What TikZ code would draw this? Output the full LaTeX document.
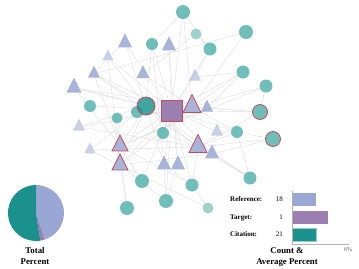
\documentclass[tikz,border=0pt]{standalone}
\usepackage{fontspec}
\setmainfont{Liberation Serif}
\usepackage{tikz}
\usetikzlibrary{positioning, shapes.geometric, backgrounds}
\definecolor{reflav}{HTML}{9AA7D4}
\definecolor{citteal}{HTML}{4FB0AA}
\definecolor{citdark}{HTML}{1A918C}
\definecolor{tgtpurple}{HTML}{9B7FB1}
\definecolor{hilite}{HTML}{C9485B}
\definecolor{edgegray}{HTML}{E0E0E0}

\begin{document}
\begin{tikzpicture}[x=1bp, y=-1bp,
  ref/.style={
    isosceles triangle, isosceles triangle apex angle=53.13,
    shape border rotate=90, fill=reflav, fill opacity=0.85,
    inner sep=0pt, minimum size=#1bp},
  ref/.default=14,
  cit/.style={circle, fill=citteal, fill opacity=0.82,
    inner sep=0pt, minimum size=#1bp},
  cit/.default=14,
  faint/.style={fill opacity=0.55},
  hot/.style={draw=hilite, line width=0.8bp},
  edge/.style={draw=edgegray, line width=0.45bp},
  bar/.style={rectangle, anchor=west, inner sep=0pt, minimum height=13bp},
  lbl/.style={font=\fontsize{7bp}{8bp}\selectfont, inner sep=0pt},
  ttl/.style={font=\fontsize{8.8bp}{10.5bp}\selectfont\bfseries, align=center},
]
  \useasboundingbox (0,0) rectangle (359,269);

  % target
  \node[rectangle, fill=tgtpurple, hot, minimum size=21bp] (tgt) at (171.5,110.5) {};

  % references
  \node[ref] (ref1)  at (125,43)  {};
  \node[ref] (ref2)  at (169,46)  {};
  \node[ref=11, faint] (ref3)  at (108,57)  {};
  \node[ref=12] (ref4)  at (94,74)  {};
  \node[ref=13] (ref5)  at (143,74)  {};
  \node[ref=15] (ref6)  at (74,88)  {};
  \node[ref=12, faint] (ref7)  at (79,127) {};
  \node[ref=11, faint] (ref8)  at (90,150) {};
  \node[ref=12, faint] (ref9)  at (195,77)  {};
  \node[ref=18, hot] (ref10) at (192,107) {};
  \node[ref=12] (ref11) at (207,108) {};
  \node[ref=12, faint] (ref12) at (217,132) {};
  \node[ref=18, hot] (ref13) at (198,147) {};
  \node[ref=14] (ref14) at (212,154) {};
  \node[ref=16, hot] (ref15) at (120,146) {};
  \node[ref=16, hot] (ref16) at (120,165) {};
  \node[ref] (ref17) at (164,165) {};
  \node[ref] (ref18) at (178,165) {};

  % citations
  \node[cit] (cit1)  at (183,12)  {};
  \node[cit=12] (cit2)  at (152,44)  {};
  \node[cit=11, faint] (cit3)  at (196,34)  {};
  \node[cit=13] (cit4)  at (210,49)  {};
  \node[cit] (cit5)  at (246,32)  {};
  \node[cit=13] (cit6)  at (243,72)  {};
  \node[cit=13] (cit7)  at (266,86)  {};
  \node[cit=15, hot] (cit8)  at (260,112) {};
  \node[cit=15, hot] (cit9)  at (273,139) {};
  \node[cit=12] (cit10) at (237,132) {};
  \node[cit=13] (cit11) at (250,178) {};
  \node[cit=13] (cit12) at (192,185) {};
  \node[cit=11, faint] (cit13) at (208,208) {};
  \node[cit] (cit14) at (166,201) {};
  \node[cit] (cit15) at (142,181) {};
  \node[cit] (cit16) at (127,208) {};
  \node[cit=12] (cit17) at (163,133) {};
  \node[cit=12] (cit18) at (90,106)  {};
  \node[cit=11] (cit19) at (117,118) {};
  \node[cit=12] (cit20) at (137,112) {};
  \node[cit=18, hot, fill=citdark] (cit21) at (146,106) {};

  % links
  \begin{scope}[on background layer]
    \draw[edge] (tgt) -- (ref1) (tgt) -- (ref2) (tgt) -- (ref3) (tgt) -- (ref4)
      (tgt) -- (ref6) (tgt) -- (ref7) (tgt) -- (ref9) (tgt) -- (ref12)
      (tgt) -- (ref14) (tgt) -- (ref15) (tgt) -- (ref16) (tgt) -- (ref17) (tgt) -- (ref18);
    \draw[edge] (tgt) -- (cit1) (tgt) -- (cit2) (tgt) -- (cit4) (tgt) -- (cit6)
      (tgt) -- (cit10) (tgt) -- (cit12) (tgt) -- (cit14) (tgt) -- (cit15)
      (tgt) -- (cit18) (tgt) -- (cit19) (tgt) -- (cit17) (tgt) -- (cit8);
    \draw[edge] (cit21) -- (ref1) (cit21) -- (ref3) (cit21) -- (ref4) (cit21) -- (ref6)
      (cit21) -- (ref7) (cit21) -- (ref8) (cit21) -- (ref15) (cit21) -- (ref16)
      (cit21) -- (ref13) (cit21) -- (ref17) (cit21) -- (cit18) (cit21) -- (cit2) (cit21) -- (cit11);
    \draw[edge] (ref10) -- (cit5) (ref10) -- (cit6) (ref10) -- (cit7) (ref10) -- (cit8)
      (ref10) -- (cit1) (ref10) -- (ref5) (ref10) -- (ref6) (ref10) -- (cit10) (ref10) -- (ref16);
    \draw[edge] (ref13) -- (cit9) (ref13) -- (cit10) (ref13) -- (cit11) (ref13) -- (cit8)
      (ref13) -- (ref7) (ref13) -- (ref8) (ref13) -- (cit12) (ref13) -- (ref4);
    \draw[edge] (ref15) -- (ref6) (ref15) -- (cit15) (ref15) -- (cit16) (ref15) -- (ref4)
      (ref15) -- (cit12) (ref15) -- (ref11) (ref15) -- (cit7);
    \draw[edge] (ref16) -- (cit16) (ref16) -- (cit14) (ref16) -- (ref8) (ref16) -- (cit13)
      (ref16) -- (ref3) (ref16) -- (ref14);
    \draw[edge] (cit1) -- (cit2) (cit1) -- (cit4) (cit3) -- (cit4) (cit3) -- (ref5)
      (cit4) -- (ref9) (cit7) -- (cit8) (cit10) -- (cit11) (cit11) -- (ref14)
      (cit12) -- (cit13) (cit14) -- (ref17) (cit9) -- (ref14) (cit10) -- (ref12)
      (ref11) -- (cit8) (ref9) -- (cit6) (cit5) -- (ref4) (ref1) -- (ref3)
      (ref3) -- (ref4) (ref18) -- (cit14) (ref17) -- (cit12) (cit17) -- (ref13)
      (cit19) -- (ref15) (cit2) -- (ref17) (ref2) -- (ref18) (cit6) -- (ref11) (cit9) -- (cit10);
  \end{scope}

  % pie
  \fill[reflav] (36,213) -- ++(-90:28) arc[start angle=-90, end angle=72, radius=28] -- cycle;
  \fill[tgtpurple] (36,213) -- ++(72:28) arc[start angle=72, end angle=81, radius=28] -- cycle;
  \fill[citdark] (36,213) -- ++(81:28) arc[start angle=81, end angle=270, radius=28] -- cycle;
  \node[ttl] (pielbl) at (35,256) {Total\\Percent};

  % bars
  \node[bar, fill=reflav, minimum width=24bp] (refbar) at (292,199.5) {};
  \node[bar, fill=tgtpurple, minimum width=36bp] (tgtbar) at (292,217.5) {};
  \node[bar, fill=citdark, draw=citteal!60, line width=0.6bp, minimum width=24bp] (citbar) at (292,234.5) {};
  \draw[black!30, line width=0.4bp] (292,191) -- (292,244) -- (349,244);
  \node[lbl, left=9bp of refbar] (refnum) {18};
  \node[lbl, left=9bp of tgtbar] (tgtnum) {1};
  \node[lbl, left=9bp of citbar] (citnum) {21};
  \node[lbl, anchor=west, font=\fontsize{7bp}{8bp}\selectfont\bfseries] (reflbl) at (230,199.5) {Reference:};
  \node[lbl, anchor=west, font=\fontsize{7bp}{8bp}\selectfont\bfseries] (tgtlbl) at (230,217.5) {Target:};
  \node[lbl, anchor=west, font=\fontsize{7bp}{8bp}\selectfont\bfseries] (citlbl) at (230,234.5) {Citation:};
  \node[lbl, text=black!60, font=\fontsize{6bp}{7bp}\selectfont] (pct) at (348,250) {6\%};
  \node[ttl] (barlbl) at (287,257) {Count \&\\Average Percent};
\end{tikzpicture}
\end{document}
